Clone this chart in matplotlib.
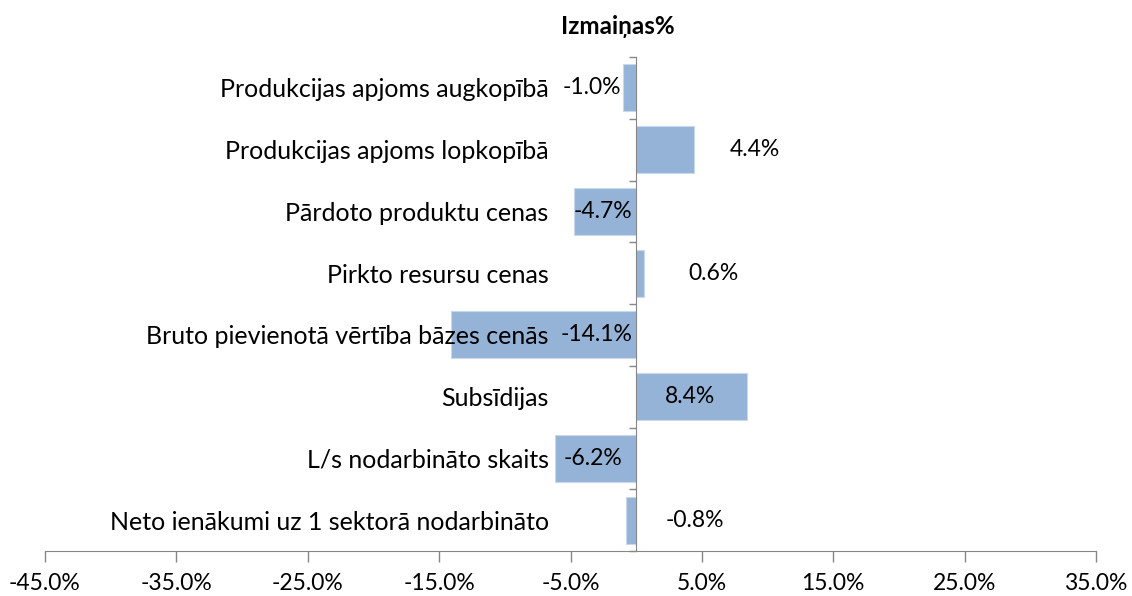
import numpy as np
import matplotlib
matplotlib.use("Agg")
import matplotlib.pyplot as plt
from matplotlib.ticker import FixedLocator, FuncFormatter

categories = [
    "Produkcijas apjoms augkopībā",
    "Produkcijas apjoms lopkopībā",
    "Pārdoto produktu cenas",
    "Pirkto resursu cenas",
    "Bruto pievienotā vērtība bāzes cenās",
    "Subsīdijas",
    "L/s nodarbināto skaits",
    "Neto ienākumi uz 1 sektorā nodarbināto",
]
values = [-1.0, 4.4, -4.7, 0.6, -14.1, 8.4, -6.2, -0.8]
xticks = [-45, -35, -25, -15, -5, 5, 15, 25, 35]
title = "Izmaiņas%"

# where Excel dropped the data labels (x in % units)
label_x = [-3.4, 9.0, -2.5, 5.85, -3.05, 4.1, -3.25, 4.5]

plt.rcParams["font.family"] = ["Lato", "DejaVu Sans"]

fig = plt.figure(figsize=(11.32, 5.96), dpi=100)
ax = fig.add_axes([45 / 1132, 1 - 551 / 596, (1096 - 45) / 1132, (551 - 57) / 596])
ax.set_axisbelow(False)

y = np.arange(len(categories))
ax.barh(y, values, height=0.76, color="#95b3d7", edgecolor="#c9d8eb", linewidth=0.8, zorder=1)

for yi, v, lx in zip(y, values, label_x):
    ax.text(lx, yi, f"{v:.1f}%", ha="center", va="center", fontsize=16.5, zorder=3)

ax.set_xlim(-45, 35)
ax.set_ylim(len(categories) - 0.5, -0.5)

ax.set_xticks(xticks)
ax.xaxis.set_major_formatter(FuncFormatter(lambda v, p: f"{v:.1f}%"))
ax.tick_params(axis="x", length=8, width=1, color="#868686", labelsize=16.5, pad=8)

for s in ["top", "right"]:
    ax.spines[s].set_visible(False)
ax.spines["left"].set_position(("data", 0))
ax.spines["left"].set_color("#868686")
ax.spines["bottom"].set_color("#868686")

ax.yaxis.set_major_locator(FixedLocator(np.arange(-0.5, len(categories), 1.0)))
ax.yaxis.set_major_formatter(FuncFormatter(lambda v, p: ""))
ax.yaxis.set_minor_locator(FixedLocator(y))
ax.set_yticklabels(categories, minor=True)
ax.tick_params(axis="y", which="major", length=5, width=1, color="#868686")
ax.tick_params(axis="y", which="minor", length=0, labelsize=18, pad=63)

fig.text(618 / 1132, 1 - 26 / 596, title, ha="center", va="center", fontsize=17.5, fontweight="bold")

fig.savefig("out.png", dpi=100)
